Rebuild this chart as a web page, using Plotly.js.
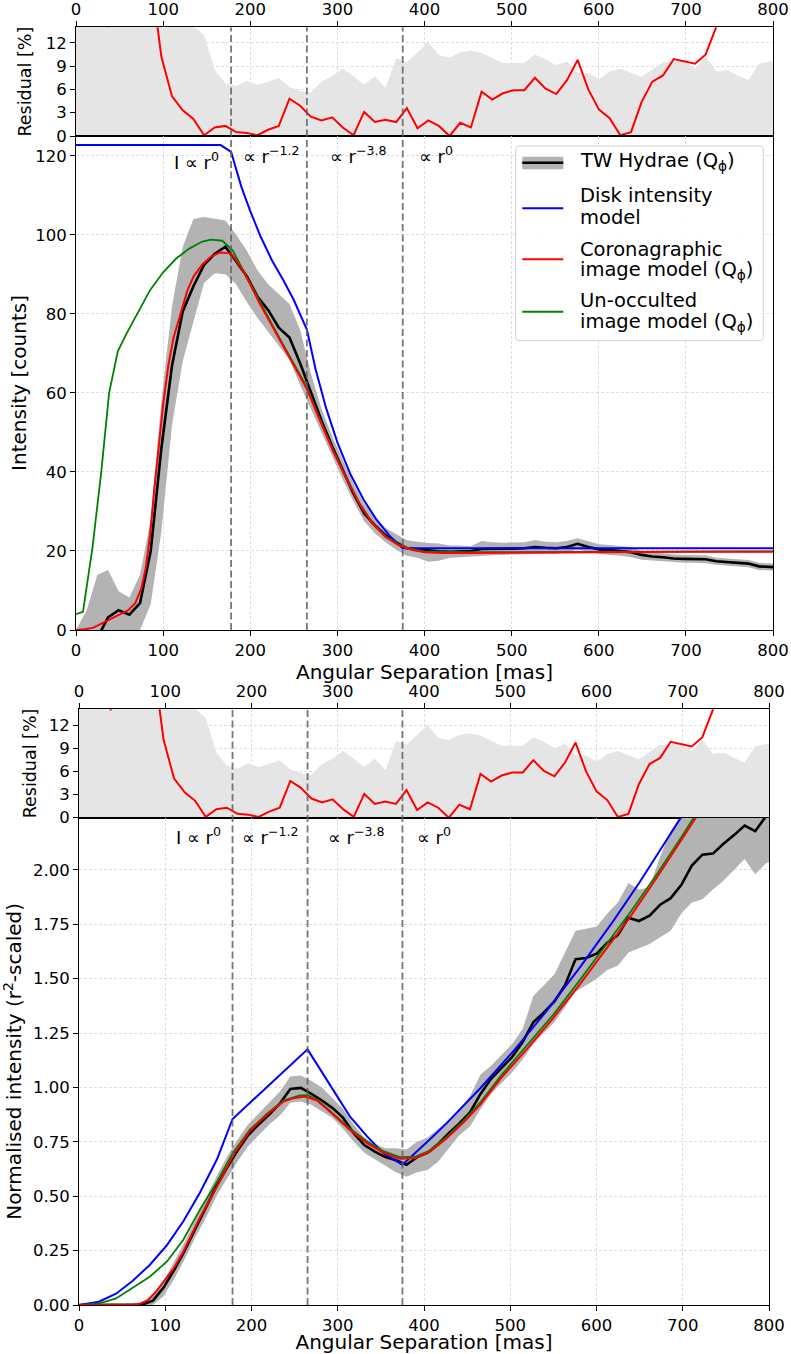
<!DOCTYPE html>
<html><head><meta charset="utf-8">
<script src="https://cdn.plot.ly/plotly-3.0.1.min.js"></script>
<style>html,body{margin:0;padding:0;background:#fff}#chart{width:791px;height:1354px}</style>
</head><body><div id="chart"></div>
<script>
// ---------------- DATA ----------------
const separation = [0,12.25,24.5,36.75,49,61.25,73.5,85.75,98,110.25,122.5,134.75,147,159.25,171.5,183.75,196,208.25,220.5,232.75,245,257.25,269.5,281.75,294,306.25,318.5,330.75,343,355.25,367.5,379.75,392,404.25,416.5,428.75,441,453.25,465.5,477.75,490,502.25,514.5,526.75,539,551.25,563.5,575.75,588,600.25,612.5,624.75,637,649.25,661.5,673.75,686,698.25,710.5,722.75,735,747.25,759.5,771.75,784,796.25,808.5];

const residual = [100,80,40,14.0,30,45,35,20.8,10.2,5.1,3.3,2.2,0.1,1.1,1.3,0.5,0.4,0.1,0.8,1.3,4.8,3.9,2.5,2.0,2.4,1.1,0.1,3.1,1.8,2.1,1.8,3.6,1.0,2.0,1.3,0.0,1.7,1.1,5.7,4.7,5.5,5.9,5.9,7.5,6.1,5.4,7.2,9.8,6.0,3.4,2.3,0.1,0.5,4.4,7.0,7.8,9.9,9.6,9.3,10.5,14.1,19,23,27,31,35,38];
const residualError = [25,25,25,25,25,25,25,25,25,25,18,14.2,13.0,8.5,6.8,6.4,7.1,6.6,7.0,7.5,6.3,5.8,5.6,7.0,7.7,8.7,7.7,6.6,7.7,6.2,10.0,9.5,10.8,12.1,10.4,10.1,10.8,11.0,10.7,10.1,9.4,9.4,9.4,10.5,9.9,9.1,9.6,8.1,8.1,7.3,8.3,8.7,8.1,7.6,8.6,9.5,9.5,9.8,8.7,10.2,8.3,8.5,7.8,7.2,9.3,9.6,9.7];

const twHydraeCounts = [-6,-4,-2,3.2,5.0,3.9,6.8,20,46,67,80.6,87,92.4,95.2,97.0,93.3,89.5,84.4,81,76.5,74,67.5,60,53,46.5,40.5,34.5,29.5,26.5,24,22.2,20.7,20.4,20.1,19.9,19.8,19.9,20.0,20.5,20.5,20.5,20.6,20.7,21.0,20.8,20.7,21.0,21.8,21.0,20.4,20.2,20.0,19.7,19.0,18.6,18.4,18.1,18.0,18.0,17.9,17.4,17.2,17.0,16.8,16.1,15.9,15.8];
const twHydraeCountsHigh = [0,5,14,15.2,9.8,8.2,14,28,58,82,97,104,104.5,104,103.6,100,96,91,87.5,85,82.5,76,65,56,49,43,37,32,28.5,25.8,24.3,22.7,22.3,22.0,21.9,21.4,21.4,21.2,22.5,22.2,22.1,22.1,22.2,22.8,22.3,22.2,22.5,23.2,22.5,21.7,21.5,21.3,21.0,20.0,19.6,19.4,19.1,19.0,19.0,18.9,18.3,18.1,17.9,17.7,17.0,16.8,16.7];
const twHydraeCountsLow = [0,0,0,0,0,0,0,6.5,25,52,68,78,87.8,90.3,90,87.5,83,79,75.5,72,68.4,62,56,50,44,38,32.5,27.5,24.5,22.2,20.3,18.8,18.3,17.3,17.5,18.3,18.4,18.6,18.8,18.9,19.0,19.1,19.2,19.3,19.3,19.3,19.6,20.4,19.8,19.2,19.0,18.8,18.4,17.8,17.6,17.4,17.1,17.0,17.0,16.9,16.5,16.3,16.1,15.9,15.2,15.0,14.9];

const diskModelX = [0,166,178,190,200,212,225,238,250,265,275,287,300,315,330,345,360,375,800];
const diskModelCounts = [122.7,122.7,121.0,112,106,99.5,93.5,88.5,83.5,76,66,56.2,47.5,39.4,33,27.9,23.8,20.7,20.7];
const coronoModelX = [0,10,20,30,40,50,60,68,75,80,85,90,95,100,106,112,120,128,135,145,155,165,178,190,200,210,225,240,255,265,280,295,310,325,340,355,370,385,400,420,450,500,600,700,800];
const coronoModelCounts = [0,0.2,0.6,1.7,3.0,4.0,5.0,6.8,10.5,15.6,24,36,47,57,67,74,80,86,89.5,92.5,94.5,95.5,95.3,91.5,87.5,83,77,71,65,61,53,45.3,38.5,32,27,23.6,21.5,20.3,19.7,19.5,19.5,19.6,19.7,19.8,19.8];
const unoccModelX = [0,8,19,29,38,48,58,70,85,100,115,130,145,155,168,180,190,200,210,225,240,255,265,280,295,310,325,340,355,370,385,400,450,500,600,700,800];
const unoccModelCounts = [4,4.6,21,40,60,70.5,75,80,86,90.5,94,96.5,98.3,98.8,98.5,96,91.8,87.8,83.3,77.3,71.3,65.3,61.5,53.3,45.6,38.7,32.2,27.2,23.8,21.7,20.5,19.9,19.7,19.7,19.8,19.9,19.9];

const twHydraeScaled = [0,0,0,0,0,0,0.002,0.02,0.08,0.16,0.25,0.35,0.445,0.545,0.63,0.71,0.78,0.83,0.875,0.925,0.993,0.998,0.97,0.94,0.905,0.86,0.79,0.735,0.705,0.68,0.665,0.645,0.68,0.70,0.74,0.79,0.835,0.885,0.97,1.04,1.09,1.14,1.21,1.30,1.345,1.395,1.47,1.59,1.595,1.615,1.665,1.70,1.78,1.765,1.79,1.84,1.87,1.93,2.02,2.07,2.075,2.12,2.16,2.204,2.178,2.245,2.3];
const twHydraeScaledHigh = [0,0,0,0,0,0,0.01,0.05,0.11,0.2,0.29,0.39,0.49,0.59,0.68,0.76,0.83,0.88,0.93,0.98,1.05,1.055,1.03,1.0,0.95,0.90,0.83,0.77,0.74,0.72,0.72,0.715,0.75,0.77,0.81,0.85,0.90,0.96,1.06,1.1,1.15,1.20,1.27,1.42,1.47,1.52,1.62,1.72,1.73,1.74,1.80,1.85,1.94,1.91,1.92,2.06,2.18,2.25,2.3,2.35,2.4,2.45,2.5,2.55,2.6,2.6,2.6];
const twHydraeScaledLow = [0,0,0,0,0,0,0,0,0.04,0.12,0.21,0.31,0.40,0.50,0.58,0.66,0.73,0.78,0.83,0.87,0.93,0.935,0.92,0.89,0.86,0.81,0.75,0.70,0.67,0.64,0.61,0.59,0.61,0.62,0.66,0.72,0.78,0.82,0.9,0.97,1.02,1.07,1.13,1.2,1.25,1.30,1.37,1.44,1.47,1.50,1.54,1.56,1.62,1.64,1.66,1.69,1.72,1.80,1.85,1.865,1.91,1.95,2.0,2.05,1.98,2.03,2.05];

const diskScaledX = [0,23,43,62,82,102,121,140,160,178,265,283,299,314,334,353,375,389,407,426,446,465,504,542,581,620,650,670,700,720];
const diskScaled = [0,0.015,0.052,0.11,0.184,0.275,0.385,0.515,0.67,0.855,1.175,1.06,0.96,0.867,0.775,0.698,0.645,0.695,0.762,0.835,0.915,0.995,1.168,1.351,1.553,1.768,1.943,2.065,2.254,2.385];
const coronoScaledX = [0,60,70,80,90,100,110,121,140,160,179,198,218,237,250,262,276,295,314,334,353,372,390,407,426,446,465,490,520,550,580,610,640,670,700,730];
const coronoScaled = [0,0,0.005,0.022,0.065,0.115,0.17,0.245,0.40,0.545,0.69,0.80,0.875,0.935,0.952,0.958,0.94,0.874,0.805,0.744,0.70,0.672,0.676,0.705,0.765,0.84,0.92,1.046,1.18,1.32,1.47,1.63,1.79,1.965,2.145,2.33];
const unoccScaledX = [0,23,43,62,82,102,121,140,160,178,198,218,237,256,265,276,295,314,334,353,372,390,407,426,446,465,490,520,550,580,610,640,670,700,730];
const unoccScaled = [0,0.006,0.03,0.077,0.13,0.2,0.3,0.437,0.567,0.697,0.805,0.88,0.94,0.963,0.965,0.945,0.88,0.812,0.752,0.707,0.68,0.682,0.71,0.772,0.848,0.93,1.058,1.195,1.335,1.49,1.65,1.81,1.98,2.16,2.35];

const boundaries = [178, 265, 375];
const regionLabels = ['I ∝ r<sup>0</sup>', '∝ r<sup>−1.2</sup>', '∝ r<sup>−3.8</sup>', '∝ r<sup>0</sup>'];
const legendLabels = [['TW Hydrae (Q<sub>ϕ</sub>)'], ['Disk intensity', 'model'], ['Coronagraphic', 'image model (Q<sub>ϕ</sub>)'], ['Un-occulted', 'image model (Q<sub>ϕ</sub>)']];

// ---------------- LAYOUT HELPERS ----------------
const W = 791, H = 1354;
const px = p => p / W;
const py = p => 1 - p / H;
const FONT = 'DejaVu Sans';
const TICKSIZE = 16.5;
const GRID = '#d6d6d6';

function xAxis(dom, anchor, side, title) {
  const a = {
    domain: dom, anchor: anchor, side: side, range: [0, 800], tick0: 0, dtick: 100,
    ticks: 'outside', ticklen: 5, tickwidth: 1, tickcolor: 'black',
    showline: true, linecolor: 'black', linewidth: 1, mirror: true,
    showgrid: true, gridcolor: GRID, griddash: '3px,2px', gridwidth: 0.8,
    zeroline: false, tickfont: {size: TICKSIZE, color: 'black'}, automargin: false, fixedrange: true
  };
  if (title) a.title = {text: title, font: {size: 20, color: 'black'}, standoff: 2};
  return a;
}
function yAxis(dom, anchor, range, opts, title, tsize, standoff) {
  return Object.assign({
    domain: dom, anchor: anchor, range: range,
    ticks: 'outside', ticklen: 5, tickwidth: 1, tickcolor: 'black',
    showline: true, linecolor: 'black', linewidth: 1, mirror: true,
    showgrid: true, gridcolor: GRID, griddash: '3px,2px', gridwidth: 0.8,
    zeroline: false, tickfont: {size: TICKSIZE, color: 'black'}, automargin: false, fixedrange: true,
    title: {text: title, font: {size: tsize, color: 'black'}, standoff: standoff}
  }, opts);
}

const topDom = [px(76), px(773)];
const botDom = [px(79), px(769)];

// ---------------- TRACES ----------------
function line(x, y, color, width, xa, ya) {
  return {x: x, y: y, type: 'scatter', mode: 'lines', line: {color: color, width: width}, xaxis: xa, yaxis: ya, hoverinfo: 'skip', showlegend: false};
}
function band(x, lo, hi, color, xa, ya) {
  return [
    {x: x, y: lo, type: 'scatter', mode: 'lines', line: {width: 0, color: color}, xaxis: xa, yaxis: ya, hoverinfo: 'skip', showlegend: false},
    {x: x, y: hi, type: 'scatter', mode: 'lines', line: {width: 0, color: color}, fill: 'tonexty', fillcolor: color, xaxis: xa, yaxis: ya, hoverinfo: 'skip', showlegend: false}
  ];
}
const BAND = '#b3b3b3', RESBAND = '#e5e5e5';
const traces = [
  // top residual
  {x: separation, y: residualError, type: 'scatter', mode: 'lines', line: {width: 0, color: RESBAND}, fill: 'tozeroy', fillcolor: RESBAND, xaxis: 'x', yaxis: 'y', hoverinfo: 'skip', showlegend: false},
  line(separation, residual, '#ff0000', 2, 'x', 'y'),
  // top main
  ...band(separation, twHydraeCountsLow, twHydraeCountsHigh, BAND, 'x2', 'y2'),
  line(separation, twHydraeCounts, '#000000', 2.6, 'x2', 'y2'),
  line(diskModelX, diskModelCounts, '#0000ff', 2, 'x2', 'y2'),
  line(unoccModelX, unoccModelCounts, '#008000', 1.8, 'x2', 'y2'),
  line(coronoModelX, coronoModelCounts, '#ff0000', 2, 'x2', 'y2'),
  // bottom residual
  {x: separation, y: residualError, type: 'scatter', mode: 'lines', line: {width: 0, color: RESBAND}, fill: 'tozeroy', fillcolor: RESBAND, xaxis: 'x3', yaxis: 'y3', hoverinfo: 'skip', showlegend: false},
  line(separation, residual, '#ff0000', 2, 'x3', 'y3'),
  // bottom main
  ...band(separation, twHydraeScaledLow, twHydraeScaledHigh, BAND, 'x4', 'y4'),
  line(separation, twHydraeScaled, '#000000', 2.6, 'x4', 'y4'),
  line(diskScaledX, diskScaled, '#0000ff', 2, 'x4', 'y4'),
  line(unoccScaledX, unoccScaled, '#008000', 1.8, 'x4', 'y4'),
  line(coronoScaledX, coronoScaled, '#ff0000', 2, 'x4', 'y4')
];

// ---------------- SHAPES ----------------
const shapes = [];
boundaries.forEach(b => {
  shapes.push({type: 'line', xref: 'x2', yref: 'paper', x0: b, x1: b, y0: py(630), y1: py(27.3), line: {color: 'rgba(95,95,95,0.85)', width: 1.8, dash: '7px,3.5px'}, layer: 'above'});
  shapes.push({type: 'line', xref: 'x4', yref: 'paper', x0: b, x1: b, y0: py(1305), y1: py(709.3), line: {color: 'rgba(95,95,95,0.85)', width: 1.8, dash: '7px,3.5px'}, layer: 'above'});
});
// legend frame (rounded)
(function () {
  const L = 515.7, R = 763.3, T = 146, B = 340.7, r = 4;
  const P = (x, y) => px(x).toFixed(5) + ',' + py(y).toFixed(5);
  const path = 'M' + P(L + r, T) + ' L' + P(R - r, T) + ' Q' + P(R, T) + ' ' + P(R, T + r) +
    ' L' + P(R, B - r) + ' Q' + P(R, B) + ' ' + P(R - r, B) + ' L' + P(L + r, B) +
    ' Q' + P(L, B) + ' ' + P(L, B - r) + ' L' + P(L, T + r) + ' Q' + P(L, T) + ' ' + P(L + r, T) + ' Z';
  shapes.push({type: 'path', xref: 'paper', yref: 'paper', path: path, fillcolor: 'rgba(255,255,255,0.85)', line: {color: '#cfcfcf', width: 1}, layer: 'above'});
  shapes.push({type: 'rect', xref: 'paper', yref: 'paper', x0: px(522.3), x1: px(563.3), y0: py(169.3), y1: py(156.7), fillcolor: BAND, line: {width: 0}, layer: 'above'});
  const sym = [[162.7, '#000000', 2.6], [208.3, '#0000ff', 2], [259.3, '#ff0000', 2], [311.7, '#008000', 2]];
  sym.forEach(s => shapes.push({type: 'line', xref: 'paper', yref: 'paper', x0: px(522.3), x1: px(563.3), y0: py(s[0]), y1: py(s[0]), line: {color: s[1], width: s[2]}, layer: 'above'}));
})();

// ---------------- ANNOTATIONS ----------------
const annotations = [];
const legendBaselines = [[168.7], [202.7, 224.3], [256, 277.7], [307.7, 329.3]];
legendLabels.forEach((lines, i) => {
  lines.forEach((t, j) => {
    annotations.push({xref: 'paper', yref: 'paper', x: px(579), y: py(legendBaselines[i][j] - 6.8), xanchor: 'left', yanchor: 'middle', text: t, showarrow: false, font: {size: 19.5, color: 'black', family: FONT}, borderpad: 0});
  });
});
const topLabelPos = [[196.3, 170], [271, 163.3], [358.3, 163.3], [435.5, 163.3]];
const botLabelPos = [[198.3, 845], [270.3, 844.5], [356.7, 844.5], [433.7, 844.5]];
regionLabels.forEach((t, i) => {
  annotations.push({xref: 'paper', yref: 'paper', x: px(topLabelPos[i][0]), y: py(topLabelPos[i][1] + 4.2), xanchor: 'center', yanchor: 'bottom', text: t, showarrow: false, font: {size: 18, color: 'black', family: FONT}, borderpad: 0});
  annotations.push({xref: 'paper', yref: 'paper', x: px(botLabelPos[i][0]), y: py(botLabelPos[i][1] + 4.2), xanchor: 'center', yanchor: 'bottom', text: t, showarrow: false, font: {size: 18, color: 'black', family: FONT}, borderpad: 0});
});

const layout = {
  width: W, height: H,
  margin: {l: 0, r: 0, t: 0, b: 0, pad: 0},
  paper_bgcolor: 'white', plot_bgcolor: 'white',
  showlegend: false,
  font: {family: FONT, size: TICKSIZE, color: 'black'},
  xaxis: xAxis(topDom, 'y', 'top'),
  yaxis: yAxis([py(136), py(27.3)], 'x', [0, 14], {tickvals: [0, 3, 6, 9, 12]}, 'Residual [%]', 17.5, 9),
  xaxis2: xAxis(topDom, 'y2', 'bottom', 'Angular Separation [mas]'),
  yaxis2: yAxis([py(630), py(136)], 'x2', [0, 125], {tick0: 0, dtick: 20}, 'Intensity [counts]', 20, 3),
  xaxis3: xAxis(botDom, 'y3', 'top'),
  yaxis3: yAxis([py(817.7), py(709.3)], 'x3', [0, 14.14], {tickvals: [0, 3, 6, 9, 12]}, 'Residual [%]', 17.5, 7),
  xaxis4: xAxis(botDom, 'y4', 'bottom', 'Angular Separation [mas]'),
  yaxis4: yAxis([py(1305), py(817.7)], 'x4', [0, 2.24], {tick0: 0, dtick: 0.25, tickformat: '.2f'}, 'Normalised intensity (r<sup>2</sup>-scaled)', 20, 6),
  shapes: shapes,
  annotations: annotations
};

Plotly.newPlot('chart', traces, layout, {displayModeBar: false, staticPlot: true});
</script>
</body></html>
